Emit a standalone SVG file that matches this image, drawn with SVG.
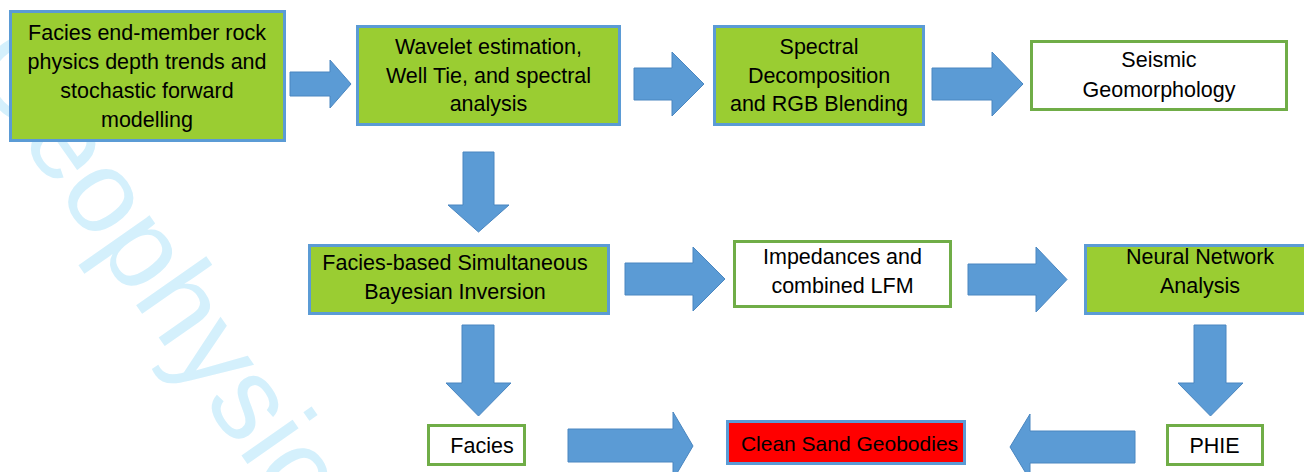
<svg xmlns="http://www.w3.org/2000/svg" width="1304" height="472" viewBox="0 0 1304 472">
<style>
.wm{font-family:"Liberation Sans",Arial,sans-serif;font-size:118px;fill:#D4F0FC}
.g{fill:#9ACD32;stroke:#5B9BD5;stroke-width:3}
.w{fill:#FFFFFF;stroke:#70AD47;stroke-width:3}
.r{fill:#FF0000;stroke:#5B9BD5;stroke-width:3}
.t{font-family:"Liberation Sans",Arial,sans-serif;font-size:21.5px;fill:#000;text-anchor:middle}
.a{fill:#5B9BD5;stroke:#4A86C0;stroke-width:1}
</style>
<rect width="1304" height="472" fill="#FFFFFF"/>
<g id="watermark">
<text class="wm" transform="translate(-34,62) rotate(55)">Geophysics</text>
</g>
<g id="connectors">
<polygon class="a" points="290,72 330,72 330,60 351,84 330,108 330,96 290,96"/>
<polygon class="a" points="634,68 672,68 672,52 704,84 672,116 672,100 634,100"/>
<polygon class="a" points="932,68 992,68 992,52 1023,84 992,116 992,100 932,100"/>
<polygon class="a" points="463,152 494,152 494,205 509,205 478.5,232 448,205 463,205"/>
<polygon class="a" points="625,263 693,263 693,247 725,279 693,311 693,295 625,295"/>
<polygon class="a" points="968,264 1036,264 1036,247 1067,279.5 1036,312 1036,295 968,295"/>
<polygon class="a" points="462,325 494,325 494,383 511,383 478.5,416 446,383 462,383"/>
<polygon class="a" points="1194,325 1226,325 1226,383 1243,383 1210.5,416 1178,383 1194,383"/>
<polygon class="a" points="568,429 673,429 673,412 693,446 673,480 673,462 568,462"/>
<polygon class="a" points="1135,431 1030,431 1030,414 1010,447 1030,480 1030,463 1135,463"/>
</g>
<g id="n1">
<rect class="g" x="10.5" y="11.5" width="274" height="129"/>
<text class="t" x="147" y="39.5">Facies end-member rock</text>
<text class="t" x="147" y="68.5">physics depth trends and</text>
<text class="t" x="147" y="97.5">stochastic forward</text>
<text class="t" x="147" y="126.5">modelling</text>
</g>
<g id="n2">
<rect class="g" x="357.5" y="26.5" width="262" height="98"/>
<text class="t" x="488.5" y="53.5">Wavelet estimation,</text>
<text class="t" x="488.5" y="82.5">Well Tie, and spectral</text>
<text class="t" x="488.5" y="111">analysis</text>
</g>
<g id="n3">
<rect class="g" x="714.5" y="26.5" width="209" height="98"/>
<text class="t" x="819" y="53.5">Spectral</text>
<text class="t" x="819" y="82.5">Decomposition</text>
<text class="t" x="819" y="111">and RGB Blending</text>
</g>
<g id="n4">
<rect class="w" x="1031.5" y="41.5" width="255" height="68"/>
<text class="t" x="1159" y="67">Seismic</text>
<text class="t" x="1159" y="96.5">Geomorphology</text>
</g>
<g id="n5">
<rect class="g" x="309.5" y="245.5" width="299" height="68"/>
<text class="t" x="455" y="269.5">Facies-based Simultaneous</text>
<text class="t" x="455" y="298.5">Bayesian Inversion</text>
</g>
<g id="n6">
<rect class="w" x="734.5" y="241.5" width="216" height="65"/>
<text class="t" x="842.5" y="263.5">Impedances and</text>
<text class="t" x="842.5" y="292.5">combined LFM</text>
</g>
<g id="n7">
<rect class="g" x="1085.5" y="245.5" width="229" height="68"/>
<text class="t" x="1200" y="263.5">Neural Network</text>
<text class="t" x="1200" y="292.5">Analysis</text>
</g>
<g id="n8">
<rect class="w" x="428.5" y="425.5" width="96" height="39"/>
<text class="t" x="482" y="452.5">Facies</text>
</g>
<g id="n9">
<rect class="r" x="727.5" y="421.5" width="237" height="42"/>
<text class="t" x="849.5" y="450.5" style="font-size:21px">Clean Sand Geobodies</text>
</g>
<g id="n10">
<rect class="w" x="1167.5" y="425.5" width="95" height="39"/>
<text class="t" x="1214.5" y="452.5">PHIE</text>
</g>
</svg>
